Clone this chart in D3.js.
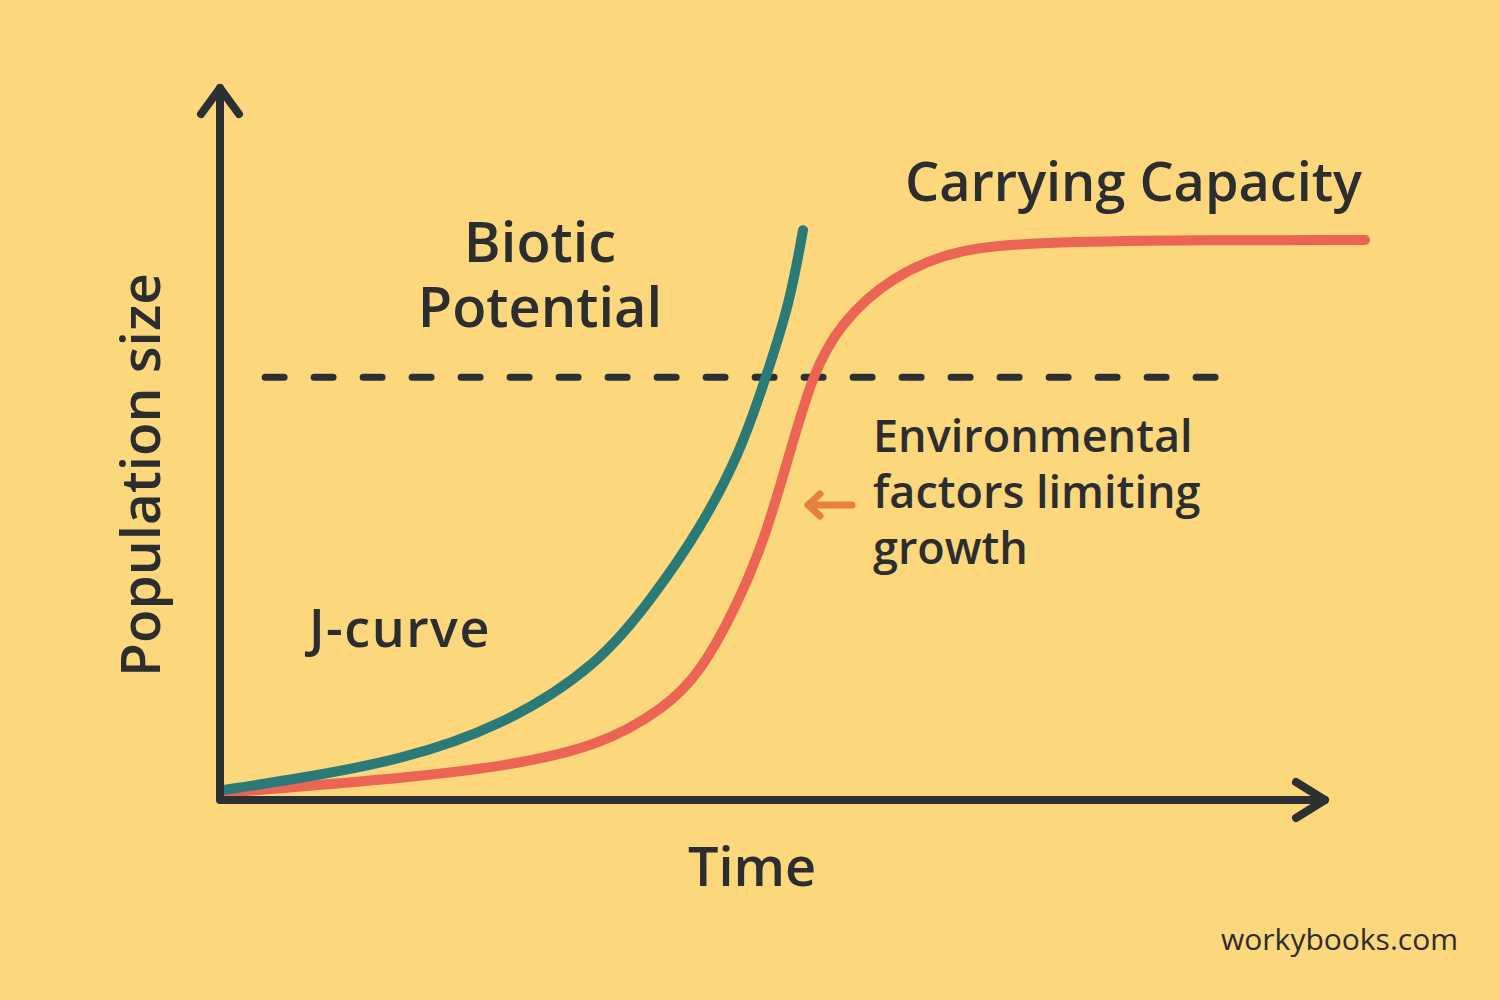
<!DOCTYPE html>
<html>
<head>
<meta charset="utf-8">
<script src="https://cdn.jsdelivr.net/npm/d3@7"></script>
<style>
  html, body { margin: 0; padding: 0; background: #fcd77c; }
  svg { display: block; }
  text { font-family: "Open Sans", "Noto Sans", sans-serif; font-weight: 600; fill: #2b2d2f; }
</style>
</head>
<body>
<div id="chart"></div>
<script>
// ---- data (time units 0-100, population units 0-100) ----
const jCurveTime = [0.2, 7.3, 16.4, 25.5, 34.5, 39.5, 43.6, 47.3, 49.7, 51.8, 53.0];
const jCurvePop  = [1.4, 3.1, 5.7, 10.4, 19.3, 29.3, 38.6, 49.6, 60.7, 71.0, 81.4];

const sCurveTime = [0.2, 7.3, 16.4, 25.5, 34.5, 40.6, 43.6, 46.8, 49.5, 51.8, 53.9, 56.4, 60.9, 67.3, 75.5, 89.1, 104.1];
const sCurvePop  = [1.0, 1.9, 3.1, 4.7, 7.6, 13.3, 18.1, 27.1, 37.1, 49.6, 61.0, 68.1, 74.7, 79.0, 79.7, 80.0, 80.0];

const capacityLevel = 60.4;
const capacityLineTime = [4.1, 91.6];

const xLabel = "Time";
const yLabel = "Population size";
const labels = {
  biotic: ["Biotic", "Potential"],
  carrying: "Carrying Capacity",
  jcurve: "J-curve",
  env: ["Environmental", "factors limiting", "growth"],
  source: "workybooks.com"
};

// ---- drawing ----
const W = 1500, H = 1000;
const svg = d3.select("#chart").append("svg").attr("width", W).attr("height", H);
svg.append("rect").attr("width", W).attr("height", H).attr("fill", "#fcd77c");

const x = d3.scaleLinear().domain([0, 100]).range([220, 1320]);
const y = d3.scaleLinear().domain([0, 100]).range([800, 100]);

const dark = "#2d3033";
const teal = "#2a7b78";
const red = "#ec6453";
const orange = "#e67f3f";

// dashed carrying-capacity line
svg.append("line")
  .attr("x1", x(capacityLineTime[0])).attr("x2", x(capacityLineTime[1]))
  .attr("y1", y(capacityLevel)).attr("y2", y(capacityLevel))
  .attr("stroke", dark).attr("stroke-width", 7)
  .attr("stroke-linecap", "round")
  .attr("stroke-dasharray", "19 30");

const line = d3.line().x(d => x(d[0])).y(d => y(d[1])).curve(d3.curveBasis);

// S-curve (logistic)
svg.append("path")
  .datum(sCurveTime.map((t, i) => [t, sCurvePop[i]]))
  .attr("d", line)
  .attr("fill", "none").attr("stroke", red).attr("stroke-width", 10)
  .attr("stroke-linecap", "round");

// J-curve (exponential)
svg.append("path")
  .datum(jCurveTime.map((t, i) => [t, jCurvePop[i]]))
  .attr("d", line)
  .attr("fill", "none").attr("stroke", teal).attr("stroke-width", 10)
  .attr("stroke-linecap", "round");

// axes
const yTop = 101.7, xEnd = 100.45;
svg.append("path")
  .attr("d", `M${x(0)},${y(yTop)} L${x(0)},${y(0)} L${x(xEnd)},${y(0)}`)
  .attr("fill", "none").attr("stroke", dark).attr("stroke-width", 8)
  .attr("stroke-linejoin", "round").attr("stroke-linecap", "round");
// arrowheads
svg.append("path")
  .attr("d", `M${x(0) - 19},${y(yTop) + 26} L${x(0)},${y(yTop)} L${x(0) + 19},${y(yTop) + 26}`)
  .attr("fill", "none").attr("stroke", dark).attr("stroke-width", 8)
  .attr("stroke-linejoin", "round").attr("stroke-linecap", "round");
svg.append("path")
  .attr("d", `M${x(xEnd) - 29},${y(0) - 18} L${x(xEnd)},${y(0)} L${x(xEnd) - 29},${y(0) + 18}`)
  .attr("fill", "none").attr("stroke", dark).attr("stroke-width", 8)
  .attr("stroke-linejoin", "round").attr("stroke-linecap", "round");

// orange pointer arrow
svg.append("path")
  .attr("d", "M852,505 L808,505 M820,494 L808,505 L820,516")
  .attr("fill", "none").attr("stroke", orange).attr("stroke-width", 7)
  .attr("stroke-linejoin", "round").attr("stroke-linecap", "round");

// texts
svg.append("text").text(xLabel)
  .attr("x", 752).attr("y", 886).attr("text-anchor", "middle")
  .attr("font-size", 54);

svg.append("text").text(yLabel)
  .attr("transform", "translate(160,475) rotate(-90)")
  .attr("text-anchor", "middle").attr("font-size", 55);

const bio = svg.append("text").attr("text-anchor", "middle").attr("font-size", 56);
labels.biotic.forEach((t, i) => {
  bio.append("tspan").text(t).attr("x", 540).attr("y", 262 + i * 65);
});

svg.append("text").text(labels.carrying)
  .attr("x", 905).attr("y", 201).attr("font-size", 54);

svg.append("text").text(labels.jcurve)
  .attr("x", 309).attr("y", 647).attr("font-size", 52)
  .style("letter-spacing", "1.5px");

const env = svg.append("text").attr("font-size", 45);
labels.env.forEach((t, i) => {
  env.append("tspan").text(t).attr("x", 873).attr("y", 452 + i * 56);
});

svg.append("text").text(labels.source)
  .attr("x", 1458).attr("y", 950).attr("text-anchor", "end")
  .attr("font-size", 30).style("font-weight", 500);
</script>
</body>
</html>
